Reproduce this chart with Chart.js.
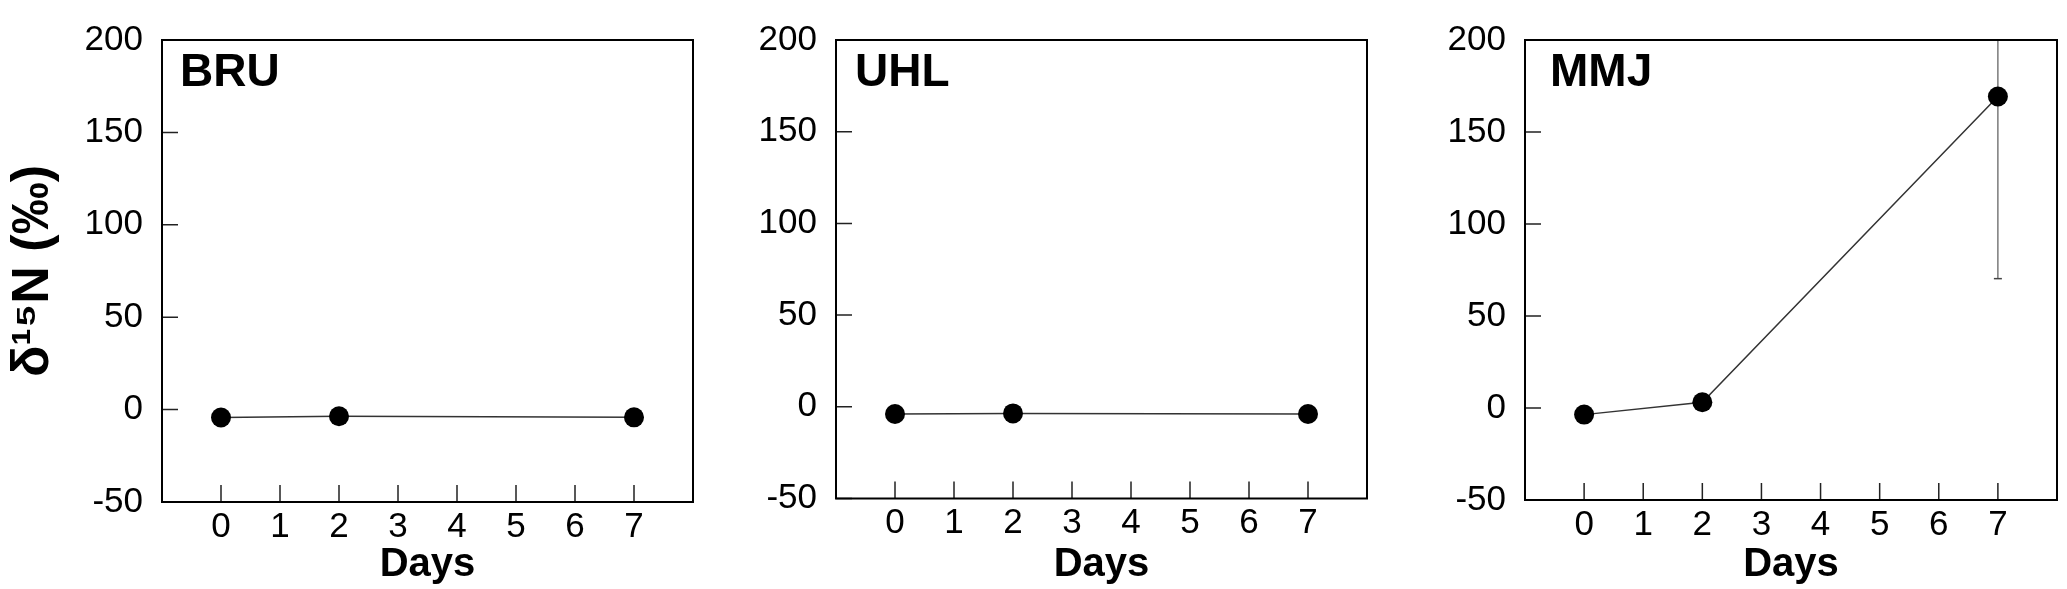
<!DOCTYPE html>
<html>
<head>
<meta charset="utf-8">
<script src="https://cdn.jsdelivr.net/npm/chart.js@4.4.1/dist/chart.umd.min.js"></script>
<style>
  html, body { margin: 0; padding: 0; background: #fff; }
  #wrap { position: relative; width: 2067px; height: 589px; overflow: hidden; }
  .panel { position: absolute; top: 0; height: 589px; }
</style>
</head>
<body>
<div id="wrap">
  <div class="panel" style="left:0;width:703px"><canvas id="bru"></canvas></div>
  <div class="panel" style="left:740px;width:637px"><canvas id="uhl"></canvas></div>
  <div class="panel" style="left:1430px;width:637px"><canvas id="mmj"></canvas></div>
</div>
<script>
// delta 15N over time, three sites
const days = [0, 2, 7];
const dayTicks = [0, 1, 2, 3, 4, 5, 6, 7];
const deltaTicks = [-50, 0, 50, 100, 150, 200];

const bruValues = [-4.3, -3.6, -4.2];
const uhlValues = [-3.9, -3.6, -3.9];
const mmjValues = [-3.6, 3.1, 169.3];
const mmjErrors = [0, 0, 99];

const font = "'Liberation Sans', Arial, Helvetica, sans-serif";
Chart.defaults.font.family = font;
Chart.defaults.color = '#000';

// box around the plot, inward tick marks and the site name
const frame = {
  id: 'frame',
  afterDraw(chart, args, opts) {
    const { ctx, chartArea: a, scales: { x, y } } = chart;
    ctx.save();
    ctx.strokeStyle = '#222';
    ctx.lineWidth = 1.5;
    ctx.beginPath();
    x.ticks.forEach((t, i) => {
      const px = x.getPixelForTick(i);
      ctx.moveTo(px, a.bottom);
      ctx.lineTo(px, a.bottom - 17);
    });
    y.ticks.forEach((t, i) => {
      const py = y.getPixelForTick(i);
      ctx.moveTo(a.left, py);
      ctx.lineTo(a.left + 16, py);
    });
    ctx.stroke();
    ctx.strokeStyle = '#000';
    ctx.lineWidth = 2;
    ctx.strokeRect(a.left, a.top, a.right - a.left, a.bottom - a.top);
    ctx.fillStyle = '#000';
    ctx.font = 'bold 46px ' + font;
    ctx.textBaseline = 'alphabetic';
    ctx.fillText(opts.label, a.left + opts.dx, opts.baseline);
    ctx.restore();
  }
};

function makeChart(id, values, site) {
  const datasets = [{
    data: days.map((d, i) => ({ x: d, y: values[i] })),
    borderColor: '#333',
    borderWidth: 1.5,
    pointRadius: 10,
    pointBackgroundColor: '#000',
    pointBorderWidth: 0,
    order: 1
  }];
  (site.errors || []).forEach((e, i) => {
    if (!e) return;
    datasets.push({
      data: [{ x: days[i], y: values[i] - e }, { x: days[i], y: values[i] + e }],
      borderColor: '#666',
      borderWidth: 1.3,
      pointStyle: 'line',
      pointRadius: 4,
      pointBorderColor: '#444',
      pointBorderWidth: 1.5,
      order: 2
    });
  });

  return new Chart(document.getElementById(id), {
    type: 'line',
    data: { datasets },
    options: {
      responsive: true,
      maintainAspectRatio: false,
      animation: false,
      layout: { padding: { top: site.top, right: 2, bottom: 0, left: 0 } },
      plugins: {
        legend: { display: false },
        tooltip: { enabled: false },
        frame: { label: site.label, dx: site.dx, baseline: 86 }
      },
      scales: {
        x: {
          type: 'linear',
          min: -1,
          max: 8,
          afterBuildTicks: s => { s.ticks = dayTicks.map(v => ({ value: v })); },
          afterFit: s => { s.height = site.xHeight; },
          grid: { display: false, drawTicks: false },
          border: { display: false },
          ticks: { font: { size: 35 }, padding: 4, autoSkip: false, maxRotation: 0, color: '#000' },
          title: { display: true, text: 'Days', color: '#000', padding: { top: 0, bottom: 0 },
                   font: { size: 40, weight: 'bold' } }
        },
        y: {
          min: -50,
          max: 200,
          afterBuildTicks: s => { s.ticks = deltaTicks.map(v => ({ value: v })); },
          afterFit: s => { s.width = site.yWidth; },
          grid: { display: false, drawTicks: false },
          border: { display: false },
          ticks: { font: { size: 35 }, padding: 19, color: '#000' },
          title: { display: !!site.yTitle, text: site.yTitle || '', color: '#000',
                   padding: { top: 2, bottom: 0 }, font: { size: 52, weight: 'bold' } }
        }
      }
    },
    plugins: [frame]
  });
}

makeChart('bru', bruValues, { label: 'BRU', dx: 18, top: 26, xHeight: 87, yWidth: 162, yTitle: 'δ¹⁵N (‰)' });
makeChart('uhl', uhlValues, { label: 'UHL', dx: 19, top: 21.5, xHeight: 90.5, yWidth: 96 });
makeChart('mmj', mmjValues, { label: 'MMJ', dx: 25, top: 22.5, xHeight: 89, yWidth: 95, errors: mmjErrors });
</script>
</body>
</html>
